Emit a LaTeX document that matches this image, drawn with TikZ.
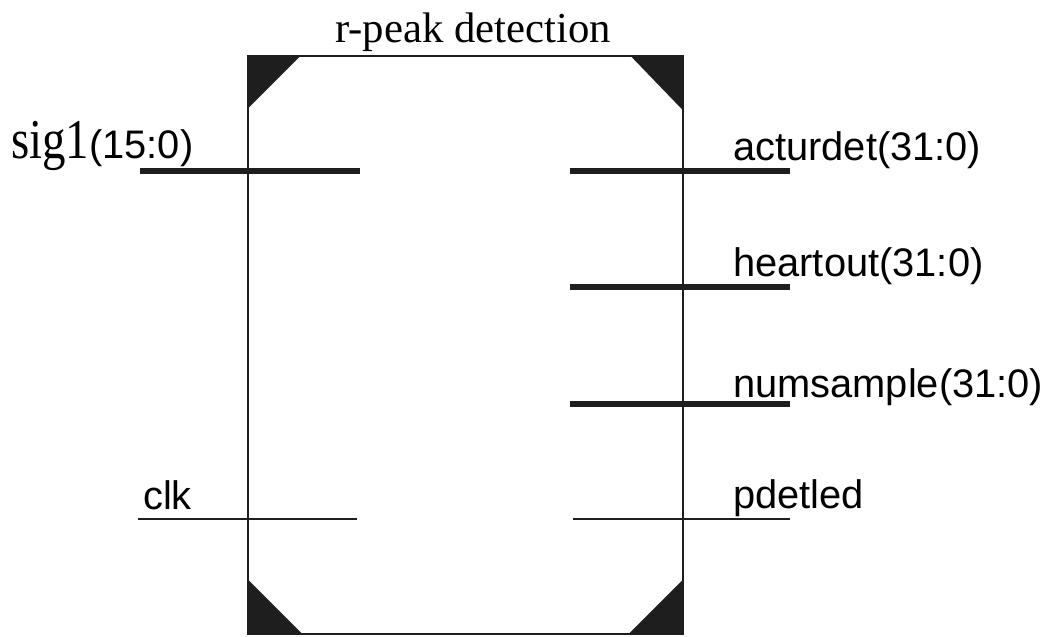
\documentclass[tikz,border=0pt]{standalone}
\usepackage{graphicx}
\usepackage{fontspec}
\setmainfont{Liberation Serif}
\setsansfont{Liberation Sans}
\usetikzlibrary{positioning, calc}
\definecolor{inkblack}{RGB}{30,30,30}

\begin{document}
\begin{tikzpicture}[
    x=0.03cm, y=-0.03cm,
    entity/.style={rectangle, draw=inkblack, line width=1.4pt, minimum width=13.05cm, minimum height=17.34cm, inner sep=0pt},
    corner/.style={fill=inkblack, draw=none},
    bus/.style={line width=5.8pt, draw=inkblack},
    wire/.style={line width=2pt, draw=inkblack},
    pin/.style={font=\fontsize{34}{40}\sffamily\selectfont, inner sep=0pt, anchor=base west},
    title/.style={font=\fontsize{36.5}{44}\selectfont, inner sep=0pt, anchor=base}
]
\useasboundingbox (0,0) rectangle (1053,636);

% entity body and name
\node[entity] (ent) at (465.5,345) {};
\node[title] (name) at (473,42) {r-peak detection};

% corner marks
\fill[corner] (ent.north west) -- ++(54,0) -- ++(-54,54) -- cycle;
\fill[corner] (ent.north east) -- ++(-54,0) -- ++(54,56) -- cycle;
\fill[corner] (ent.south west) -- ++(0,-56) -- ++(56,56) -- cycle;
\fill[corner] (ent.south east) -- ++(0,-56) -- ++(-56,56) -- cycle;

% input ports
\coordinate (sigin) at (140,171);
\coordinate (sigend) at (360,171);
\coordinate (clkin) at (138,519);
\coordinate (clkend) at (357,519);
\draw[bus] (sigin) -- (sigend);
\draw[wire] (clkin) -- (clkend);
\node[pin] (siglbl) at (11,158) {\scalebox{1}[1.2]{\fontsize{40}{48}\rmfamily\selectfont sig1}(15:0)};
\node[pin] (clklbl) at (143,509) {clk};

% output ports
\coordinate (actstart) at (570,171);
\coordinate (actout) at (790,171);
\coordinate (heartstart) at (570,287);
\coordinate (heartend) at (790,287);
\coordinate (numstart) at (570,404);
\coordinate (numend) at (790,404);
\coordinate (ledstart) at (573,519);
\coordinate (ledend) at (790,519);
\draw[bus] (actstart) -- (actout);
\draw[bus] (heartstart) -- (heartend);
\draw[bus] (numstart) -- (numend);
\draw[wire] (ledstart) -- (ledend);
\node[pin] (actlbl) at (733,160) {acturdet(31:0)};
\node[pin] (heartlbl) at (733,276) {heartout(31:0)};
\node[pin] (numlbl) at (733,397) {numsample(31:0)};
\node[pin] (ledlbl) at (733,508) {pdetled};

\end{tikzpicture}
\end{document}
